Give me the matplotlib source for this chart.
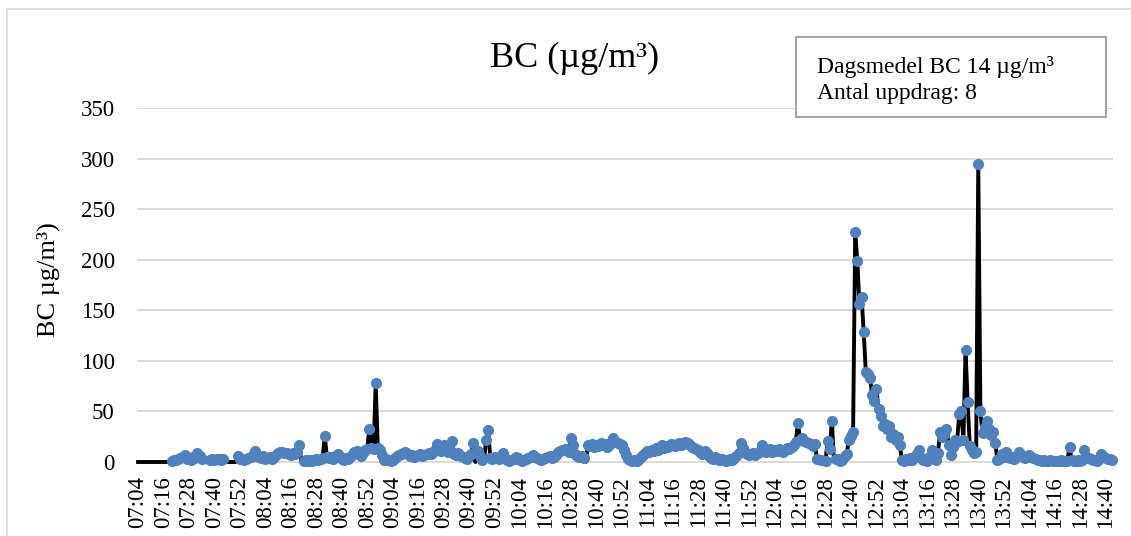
import numpy as np
import matplotlib
matplotlib.use("Agg")
import matplotlib.pyplot as plt
from matplotlib.patches import Rectangle

plt.rcParams['font.family'] = ['Liberation Serif', 'DejaVu Serif']

# One BC reading per minute, 07:04 - 14:43 (µg/m³); 0 = no reading
bc = (
    [0] * 16
    + [1, 2, 2, 3, 4, 5, 7, 3, 4, 2, 5, 4, 9, 6, 3]
    + [0, 0, 0]
    + [2, 3, 2, 3, 3, 2, 3]
    + [0, 0, 0, 0, 0, 0]
    + [6, 3, 0]
    + [2, 3, 4, 5, 7, 11, 6, 5, 4, 6, 3, 4, 5, 3, 5, 7, 9, 10, 10, 9, 9, 8, 7, 9, 8, 10, 17]
    + [0]
    + [1, 2, 1, 2, 1, 2, 3, 2, 3, 4]
    + [26, 5]
    + [4, 5, 3, 6, 8, 5, 3, 2, 4, 3, 5, 7]
    + [10, 11, 8, 6, 9, 12, 13, 33, 14, 13, 78, 14, 12, 7, 2]
    + [3, 2, 1, 2, 4, 6]
    + [7, 8, 9, 10, 8, 6, 7, 5, 6, 7, 8, 6, 7, 8, 9, 8, 10, 12]
    + [18, 12, 11, 17, 14, 10, 12, 21]
    + [8, 7, 9, 6, 5, 0, 3]
    + [6, 8, 19, 0, 11, 6, 2, 0]
    + [22, 32, 4, 3, 5, 4, 3, 6, 9]
    + [4, 2, 1, 2, 3, 5, 4, 2, 1, 2, 3, 4, 5, 7, 5, 4, 3, 2, 3, 4, 5, 6, 4, 5, 7, 10, 11, 12, 13]
    + [13, 10, 24, 17, 8, 6, 5, 6, 4, 0]
    + [17, 16, 18, 15, 17, 16, 19, 17, 18, 15, 17, 20, 24, 20, 19, 18, 17, 12, 7, 3, 2]
    + [1, 2, 1, 3, 5, 7, 9, 11, 10, 12, 11, 14, 12, 15, 17]
    + [14, 16, 15, 18, 17, 16, 18, 19, 17, 18, 20, 19, 17, 15, 14, 13]
    + [12, 10, 8, 11, 9, 6, 4, 3, 5, 4, 2, 3]
    + [2, 1, 2, 3, 2, 4, 6]
    + [9, 19, 14]
    + [10, 8, 7, 8, 9, 7, 9, 11, 17, 12, 10, 11, 13, 10, 12, 11, 13, 12, 10, 12, 14, 13, 15, 17, 20, 39]
    + [22, 24, 21, 20, 19, 18, 16, 18, 3, 0, 2, 0, 1, 21, 13, 41, 0, 3, 3, 1, 2, 6, 8, 22, 26, 30]
    + [227, 199, 156, 163, 129, 89, 87, 83, 66, 60, 72, 52, 45, 36, 38, 33, 36, 25, 28, 22, 25, 17, 2]
    + [1, 3, 2, 4, 2, 6, 8, 12, 4, 2, 3, 1, 5, 12, 5, 2, 9]
    + [30, 25, 28, 33, 17, 7, 15, 22, 20, 47, 50, 22, 111, 59, 16, 12, 9, 10, 295, 50,
       29, 35, 41, 33, 27, 30, 19, 2]
    + [3, 8, 5, 10, 6, 4, 5, 3, 6, 10, 7, 5, 4, 6, 7, 5, 4, 3, 2, 2, 1, 2, 1, 1, 2, 1, 1, 1, 1, 2,
       1, 1, 1, 15, 2, 1, 1, 2, 1, 2, 12, 4, 4, 3, 2, 2, 1, 3, 8, 6, 4, 3, 3, 2]
)

tick_labels = [
    "07:04", "07:16", "07:28", "07:40", "07:52", "08:04", "08:16", "08:28", "08:40", "08:52",
    "09:04", "09:16", "09:28", "09:40", "09:52", "10:04", "10:16", "10:28", "10:40", "10:52",
    "11:04", "11:16", "11:28", "11:40", "11:52", "12:04", "12:16", "12:28", "12:40", "12:52",
    "13:04", "13:16", "13:28", "13:40", "13:52", "14:04", "14:16", "14:28", "14:40",
]
tick_step = 12

title = "BC (µg/m³)"
y_label = "BC µg/m³)"
info_lines = ["Dagsmedel BC 14 µg/m³", "Antal uppdrag: 8"]

W, H = 1131, 536
fig = plt.figure(figsize=(W / 100, H / 100), dpi=100)

# chart-area frame
fig.add_artist(Rectangle((7 / W, -0.05), 1.1, 1 - 9 / H + 0.05, transform=fig.transFigure,
                         fill=False, ec="#d9d9d9", lw=1.2, zorder=0))

ax = fig.add_axes([137 / W, 1 - 462 / H, (1113 - 137) / W, (462 - 108) / H])
x = np.arange(len(bc))
vals = np.array(bc, dtype=float)

ax.plot(x, vals, color="black", lw=2.8, solid_joinstyle="round", zorder=3, clip_on=False)
markers = np.where(vals > 0, vals, np.nan)
ax.plot(x, markers, ls="none", marker="o", ms=7.0, color="#4f81bd", mec="#4f81bd",
        zorder=4, clip_on=False)

ax.set_xlim(-0.5, len(bc) - 0.5)
ax.set_ylim(0, 350)
ax.set_yticks(range(0, 351, 50))
ax.yaxis.grid(True, color="#d9d9d9", lw=1.3)
ax.set_axisbelow(True)
for side in ("top", "right", "left"):
    ax.spines[side].set_visible(False)
ax.spines["bottom"].set_color("#d9d9d9")
ax.spines["bottom"].set_linewidth(1.3)

ax.set_xticks(x[::tick_step])
ax.set_xticklabels(tick_labels, rotation=90, fontsize=16.5)
ax.tick_params(axis="x", length=0, pad=10)
ax.tick_params(axis="y", length=0, pad=16, labelsize=16.5)

fig.text(575 / W, 1 - 58 / H, title, ha="center", va="center", fontsize=26)
fig.text(48 / W, 1 - 280 / H, y_label, ha="center", va="center", rotation=90, fontsize=19)

# info box
fig.add_artist(Rectangle((796 / W, 1 - 117 / H), (1106 - 796) / W, 80 / H,
                         transform=fig.transFigure, fc="white", ec="#a6a6a6", lw=1.5, zorder=2))
fig.text(817 / W, 1 - 73 / H, info_lines[0], ha="left", va="baseline", fontsize=17, zorder=3)
fig.text(817 / W, 1 - 99 / H, info_lines[1], ha="left", va="baseline", fontsize=17, zorder=3)

fig.savefig("out.png", dpi=100)
